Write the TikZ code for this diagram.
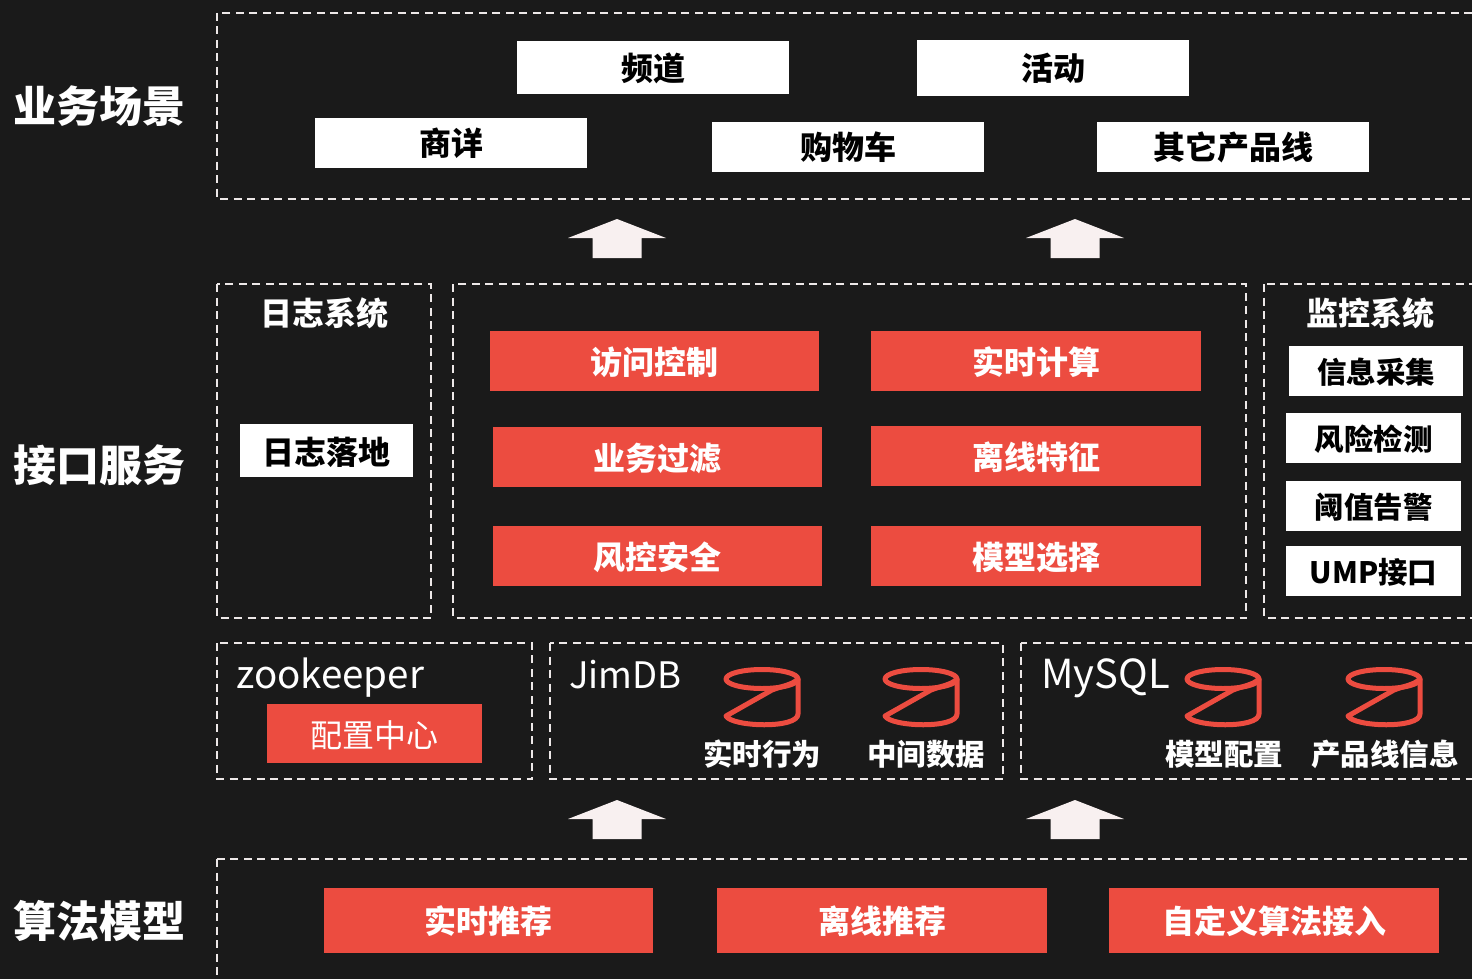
\documentclass[tikz,border=0pt]{standalone}
\usepackage{fontspec}
\setmainfont{Noto Sans CJK SC}
\definecolor{darkbg}{HTML}{1A1A1A}
\definecolor{blockred}{HTML}{EC4C40}
\definecolor{dashgrey}{HTML}{EDE8E8}
\definecolor{arrowwhite}{HTML}{F8F0F0}
\tikzset{
    groupbox/.style={draw=dashgrey,line width=1.8pt,dash pattern=on 8pt off 5.5pt},
    whiteblock/.style={fill=white,text=black,font=\fontsize{32}{32}\selectfont\bfseries,inner sep=0pt},
    monitorblock/.style={whiteblock,font=\fontsize{29.5}{30}\selectfont\bfseries,minimum height=50pt,text height=28pt,text depth=4pt},
    redblock/.style={fill=blockred,text=white,font=\fontsize{32}{32}\selectfont\bfseries,inner sep=0pt,minimum width=329pt,minimum height=60pt,text height=30pt,text depth=4pt},
    sidetitle/.style={text=white,font=\fontsize{43}{43}\selectfont\bfseries,inner sep=0pt},
    grouptitle/.style={text=white,font=\fontsize{32}{32}\selectfont\bfseries,inner sep=0pt},
    dbtitle/.style={text=white,font=\fontsize{29.5}{30}\selectfont\bfseries,inner sep=0pt},
    storetitle/.style={text=white,inner sep=0pt,anchor=base west},
}
\begin{document}
\begin{tikzpicture}[x=1pt,y=-1pt]
\useasboundingbox (0,0) rectangle (1472,979);
\clip (0,0) rectangle (1472,979);
\fill[darkbg] (0,0) rectangle (1472,979);

% dashed groups
\draw[groupbox] (217,13) rectangle (1482,199);
\draw[groupbox] (217,284) rectangle (431,618);
\draw[groupbox] (453,284) rectangle (1246,618);
\draw[groupbox] (1264,284) rectangle (1482,618);
\draw[groupbox] (217,643) rectangle (532,779);
\draw[groupbox] (550,643) rectangle (1003,779);
\draw[groupbox] (1021,643) rectangle (1482,779);
\draw[groupbox] (217,859) rectangle (1482,995);

% left titles
\node[sidetitle] (scene) at (99,106) {业务场景};
\node[sidetitle] (service) at (99,465) {接口服务};
\node[sidetitle] (model) at (99,921) {算法模型};

% business scenes
\node[whiteblock,minimum width=272pt,minimum height=53pt,text height=30pt,text depth=4pt] (channel) at (653,67.5) {频道};
\node[whiteblock,minimum width=272pt,minimum height=56pt] (activity) at (1053,68) {活动};
\node[whiteblock,minimum width=272pt,minimum height=50pt] (detail) at (451,143) {商详};
\node[whiteblock,minimum width=272pt,minimum height=50pt] (cart) at (848,147) {购物车};
\node[whiteblock,minimum width=272pt,minimum height=50pt] (otherline) at (1233,147) {其它产品线};

% arrows
\foreach \x/\y in {617/219,1075/219,617/800,1075/800}
    \fill[arrowwhite] (\x,\y) -- ++(49,19) -- ++(-24.5,0) -- ++(0,20) -- ++(-49,0) -- ++(0,-20) -- ++(-24.5,0) -- cycle;

% log system
\node[grouptitle] (logtitle) at (324,313) {日志系统};
\node[whiteblock,minimum width=173pt,minimum height=53pt,text height=32pt,text depth=4pt] (logdrop) at (326.5,450.5) {日志落地};

% interface service
\node[redblock] (access) at (654.5,361) {访问控制};
\node[redblock,minimum width=330pt] (realtime) at (1036,361) {实时计算};
\node[redblock] (filter) at (657.5,457) {业务过滤};
\node[redblock,minimum width=330pt] (offline) at (1036,456) {离线特征};
\node[redblock] (risk) at (657.5,556) {风控安全};
\node[redblock,minimum width=330pt] (select) at (1036,556) {模型选择};

% monitor system
\node[grouptitle] (monitortitle) at (1370,313) {监控系统};
\node[monitorblock,minimum width=174pt] (collect) at (1376,371) {信息采集};
\node[monitorblock,minimum width=175pt] (detect) at (1373.5,438) {风险检测};
\node[monitorblock,minimum width=175pt] (alarm) at (1373.5,506) {阈值告警};
\node[monitorblock,minimum width=175pt] (ump) at (1373.5,571) {UMP接口};

% stores
\node[storetitle,font=\fontsize{38.5}{38}\selectfont] (zk) at (236,688) {zookeeper};
\node[redblock,minimum width=215pt,minimum height=59pt,font=\fontsize{32}{32}\selectfont,text height=32pt] (config) at (374.5,733.5) {配置中心};
\node[storetitle,font=\fontsize{36.5}{38}\selectfont] (jimdb) at (569,688) {JimDB};
\node[storetitle,font=\fontsize{40}{38}\selectfont] (mysql) at (1041,688) {MySQL};

% database icons
\foreach \x in {762,921,1223,1384}{
    \draw[blockred,line width=5pt,line join=round] (\x,679) ellipse [x radius=36,y radius=9.5];
    \draw[blockred,line width=5pt,line join=round] (\x+36,679) .. controls (\x+30,685) and (\x+20,686) .. (\x+10,690)
        -- (\x-36,716) .. controls (\x-30,727) and (\x+36,729) .. (\x+36,714) -- cycle;
}
\node[dbtitle] (behavior) at (762,754) {实时行为};
\node[dbtitle] (middle) at (926,754) {中间数据};
\node[dbtitle] (modelcfg) at (1224,754) {模型配置};
\node[dbtitle] (lineinfo) at (1385,754) {产品线信息};

% algorithm models
\node[redblock,minimum height=65pt] (rtrec) at (488.5,920.5) {实时推荐};
\node[redblock,minimum height=65pt,minimum width=330pt] (offrec) at (882,920.5) {离线推荐};
\node[redblock,minimum height=65pt,minimum width=330pt] (custom) at (1274,920.5) {自定义算法接入};
\end{tikzpicture}
\end{document}
